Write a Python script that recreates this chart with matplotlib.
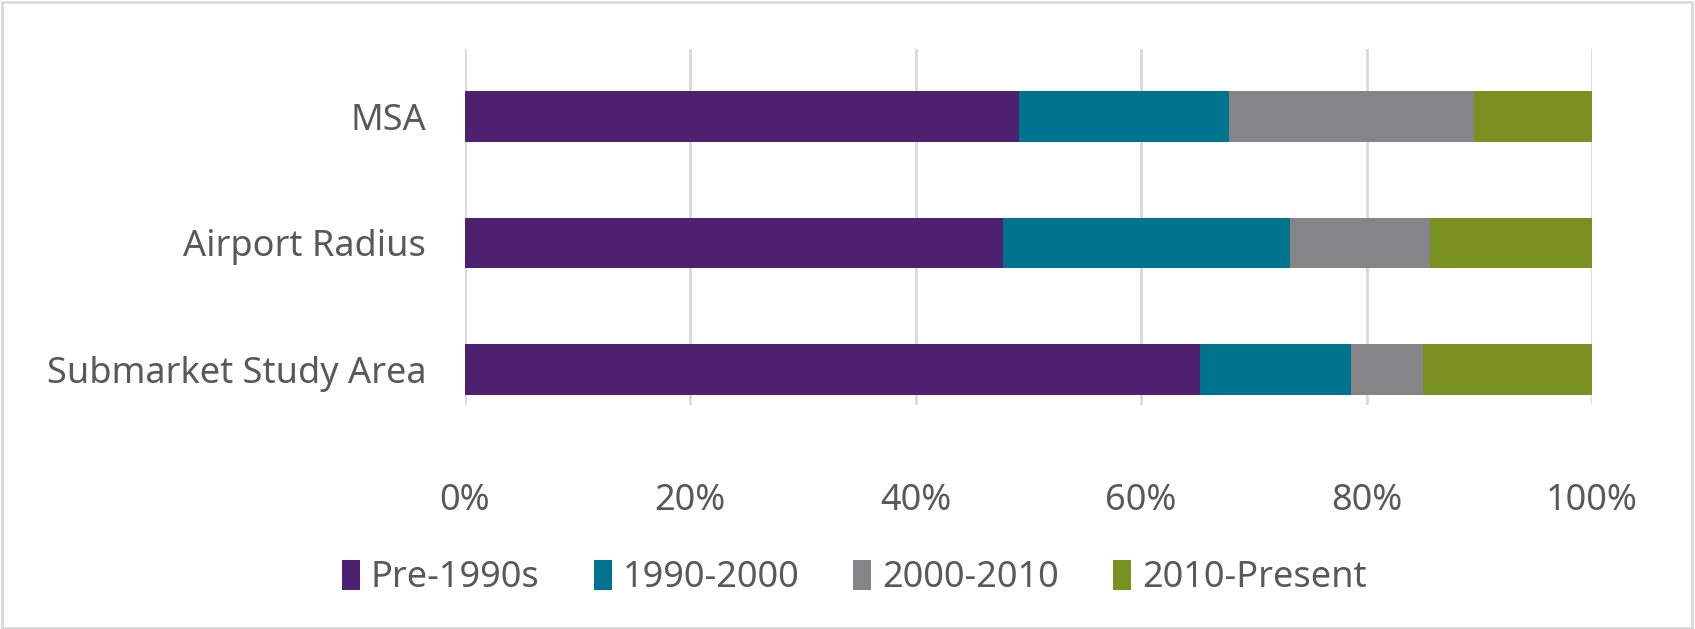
import matplotlib
matplotlib.use("Agg")
import matplotlib.pyplot as plt
from matplotlib.patches import Rectangle
import numpy as np

categories = ["Submarket Study Area", "Airport Radius", "MSA"]
series = ["Pre-1990s", "1990-2000", "2000-2010", "2010-Present"]
pre_1990s = [65.2, 47.7, 49.2]
y1990_2000 = [13.4, 25.5, 18.6]
y2000_2010 = [6.4, 12.4, 21.7]
y2010_present = [15.0, 14.4, 10.5]
colors = ["#4E2170", "#00738F", "#858587", "#7A9121"]

plt.rcParams["font.family"] = ["Noto Sans", "DejaVu Sans"]
text_color = "#595959"

fig = plt.figure(figsize=(16.95, 6.29), dpi=100)
ax = fig.add_axes([0.2743, 0.356, 0.6649, 0.566])

ypos = np.arange(len(categories))
left = np.zeros(len(categories))
for name, vals, c in zip(series, [pre_1990s, y1990_2000, y2000_2010, y2010_present], colors):
    vals = np.array(vals)
    ax.barh(ypos, vals, left=left, height=0.4, color=c, label=name, zorder=3)
    left += vals

ax.set_xlim(0, 100)
ax.set_ylim(-0.28, 2.53)
ax.set_xticks(np.arange(0, 101, 20))
ax.set_xticklabels([f"{v}%" for v in range(0, 101, 20)])
ax.set_yticks(ypos)
ax.set_yticklabels(categories)
ax.grid(axis="x", color="#D9D9D9", linewidth=2, zorder=0)
for s in ax.spines.values():
    s.set_visible(False)
ax.tick_params(axis="x", length=0, pad=56, labelsize=26, labelcolor=text_color)
ax.tick_params(axis="y", length=0, pad=28, labelsize=26, labelcolor=text_color)

ax.legend(loc="center", bbox_to_anchor=(0.504, 0.081), bbox_transform=fig.transFigure,
          ncol=4, frameon=False, fontsize=26, labelcolor=text_color,
          handlelength=0.5, handleheight=0.9, handletextpad=0.3, columnspacing=1.5)

fig.patches.append(Rectangle((0.001, 0.002), 0.997, 0.995, transform=fig.transFigure,
                             fill=False, edgecolor="#D9D9D9", linewidth=2))

fig.savefig("out.png", dpi=100)
